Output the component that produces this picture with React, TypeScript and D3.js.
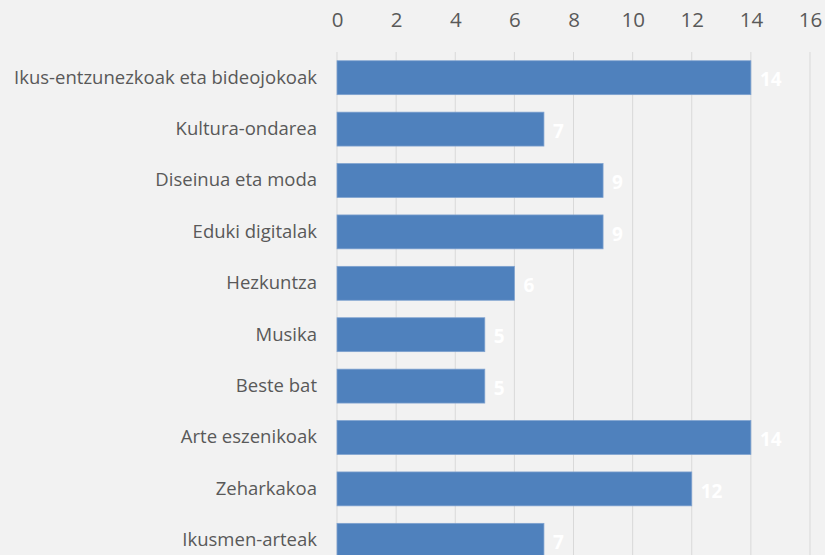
import * as d3 from "d3"
import React, { useEffect, useRef } from "react"

const categories = [
  "Ikus-entzunezkoak eta bideojokoak",
  "Kultura-ondarea",
  "Diseinua eta moda",
  "Eduki digitalak",
  "Hezkuntza",
  "Musika",
  "Beste bat",
  "Arte eszenikoak",
  "Zeharkakoa",
  "Ikusmen-arteak",
]
const values = [14, 7, 9, 9, 6, 5, 5, 14, 12, 7]
const xTicks = [0, 2, 4, 6, 8, 10, 12, 14, 16]

const font = "'Open Sans', sans-serif"

export default function App() {
  const ref = useRef<SVGSVGElement>(null)

  useEffect(() => {
    const width = 825
    const height = 555
    const left = 337
    const right = 810
    const top = 52
    const bottom = 566

    const svg = d3.select(ref.current)
    svg.selectAll("*").remove()

    svg.append("rect")
      .attr("width", width)
      .attr("height", height)
      .attr("fill", "#f2f2f2")

    const x = d3.scaleLinear().domain([0, 16]).range([left, right])
    const y = d3.scaleBand()
      .domain(categories)
      .range([top, bottom])
      .paddingInner(0.34)
      .paddingOuter(0.17)

    // gridlines
    svg.append("g")
      .selectAll("line")
      .data(xTicks)
      .join("line")
        .attr("x1", d => x(d))
        .attr("x2", d => x(d))
        .attr("y1", top)
        .attr("y2", bottom)
        .attr("stroke", "#d9d9d9")
        .attr("stroke-width", 1)

    // top axis labels
    const axis = svg.append("g")
      .attr("transform", "translate(0,20)")
      .call(d3.axisTop(x).tickValues(xTicks).tickSize(0).tickPadding(0))
    axis.select(".domain").remove()
    axis.selectAll("text")
      .attr("dy", "0.35em")
      .attr("font-family", font)
      .attr("font-size", 20.5)
      .attr("fill", "#595959")

    // category labels
    const yAxis = svg.append("g")
      .attr("transform", `translate(${left},0)`)
      .call(d3.axisLeft(y).tickSize(0).tickPadding(20))
    yAxis.select(".domain").remove()
    yAxis.selectAll("text")
      .attr("font-family", font)
      .attr("font-size", 18.5)
      .attr("fill", "#595959")

    // bars
    svg.append("g")
      .selectAll("rect")
      .data(values)
      .join("rect")
        .attr("x", x(0))
        .attr("y", (d, i) => y(categories[i])!)
        .attr("width", d => x(d) - x(0))
        .attr("height", y.bandwidth())
        .attr("fill", "#4f81bd")
        .attr("stroke", "#7fa2d0")
        .attr("stroke-width", 0.75)

    // value labels
    svg.append("g")
      .selectAll("text")
      .data(values)
      .join("text")
        .attr("x", d => x(d) + 9)
        .attr("y", (d, i) => y(categories[i])! + y.bandwidth() / 2 + 2)
        .attr("dy", "0.35em")
        .attr("font-family", font)
        .attr("font-weight", "bold")
        .attr("font-size", 19)
        .attr("fill", "#ffffff")
        .text(d => d)
  }, [])

  return (
    <svg
      ref={ref}
      width={825}
      height={555}
      style={{ position: "absolute", left: 0, top: 0 }}
    />
  )
}
